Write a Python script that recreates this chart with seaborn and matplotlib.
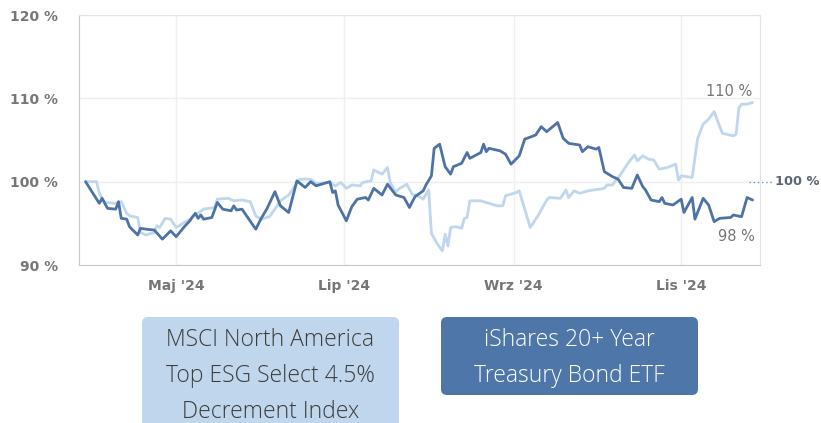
import pandas as pd
import matplotlib.pyplot as plt
import matplotlib.dates as mdates
from matplotlib.patches import FancyBboxPatch
from matplotlib.ticker import FuncFormatter
import seaborn as sns

# series names as shown in the legend boxes
msci_name = "MSCI North America\nTop ESG Select 4.5%\nDecrement Index"
tlt_name = "iShares 20+ Year\nTreasury Bond ETF"

# values, % of the starting value
msci_dates = [
    "2024-03-29", "2024-04-02", "2024-04-03", "2024-04-05", "2024-04-09", "2024-04-11",
    "2024-04-13", "2024-04-14", "2024-04-17", "2024-04-18", "2024-04-20", "2024-04-23",
    "2024-04-24", "2024-04-25", "2024-04-27", "2024-04-29", "2024-05-01", "2024-05-04",
    "2024-05-06", "2024-05-08", "2024-05-11", "2024-05-15", "2024-05-16", "2024-05-20",
    "2024-05-22", "2024-05-25", "2024-05-28", "2024-05-30", "2024-06-01", "2024-06-04",
    "2024-06-07", "2024-06-08", "2024-06-11", "2024-06-14", "2024-06-15", "2024-06-19",
    "2024-06-21", "2024-06-26", "2024-06-28", "2024-06-30", "2024-07-02", "2024-07-04",
    "2024-07-07", "2024-07-08", "2024-07-11", "2024-07-12", "2024-07-15", "2024-07-17",
    "2024-07-18", "2024-07-20", "2024-07-21", "2024-07-24", "2024-07-26", "2024-07-28",
    "2024-07-30", "2024-08-01", "2024-08-02", "2024-08-04", "2024-08-06", "2024-08-07",
    "2024-08-08", "2024-08-09", "2024-08-11", "2024-08-13", "2024-08-14", "2024-08-15",
    "2024-08-16", "2024-08-20", "2024-08-22", "2024-08-26", "2024-08-28", "2024-08-29",
    "2024-09-02", "2024-09-03", "2024-09-07", "2024-09-10", "2024-09-13", "2024-09-14",
    "2024-09-18", "2024-09-20", "2024-09-21", "2024-09-23", "2024-09-25", "2024-09-28",
    "2024-10-02", "2024-10-04", "2024-10-05", "2024-10-07", "2024-10-08", "2024-10-10",
    "2024-10-13", "2024-10-15", "2024-10-16", "2024-10-18", "2024-10-20", "2024-10-22",
    "2024-10-24", "2024-10-27", "2024-10-30", "2024-10-31", "2024-11-01", "2024-11-05",
    "2024-11-07", "2024-11-09", "2024-11-11", "2024-11-13", "2024-11-16", "2024-11-20",
    "2024-11-21", "2024-11-22", "2024-11-23", "2024-11-25", "2024-11-27",
]
msci_values = [
    100.0, 100.0, 98.6, 97.5, 97.4, 97.6,
    96.2, 95.9, 95.7, 93.9, 93.6, 93.9,
    94.7, 94.5, 95.6, 95.5, 94.5, 95.1,
    95.5, 96.0, 96.7, 96.9, 97.9, 98.0,
    97.7, 97.8, 97.6, 95.9, 95.5, 95.8,
    97.2, 97.7, 98.4, 99.8, 100.3, 100.3,
    99.8, 99.9, 99.5, 99.9, 99.2, 99.6,
    99.5, 99.9, 100.1, 101.4, 100.9, 101.7,
    99.9, 98.7, 99.1, 99.7, 98.5, 98.3,
    97.9, 99.0, 93.8, 92.6, 91.7, 93.7,
    92.3, 94.5, 94.6, 94.4, 95.6, 95.7,
    97.7, 97.7, 97.5, 97.1, 97.1, 98.3,
    98.7, 98.9, 94.5, 96.0, 97.8, 98.1,
    98.0, 99.0, 98.1, 98.9, 98.6, 98.9,
    99.1, 99.2, 99.6, 99.6, 100.1, 100.9,
    102.4, 103.2, 102.5, 103.1, 102.7, 102.6,
    101.5, 101.7, 102.1, 100.2, 100.7, 100.5,
    105.2, 106.9, 107.5, 108.4, 105.8, 105.5,
    105.7, 108.8, 109.3, 109.3, 109.5,
]

tlt_dates = [
    "2024-03-29", "2024-04-03", "2024-04-04", "2024-04-06", "2024-04-09", "2024-04-10",
    "2024-04-11", "2024-04-13", "2024-04-14", "2024-04-17", "2024-04-18", "2024-04-20",
    "2024-04-23", "2024-04-26", "2024-04-29", "2024-05-01", "2024-05-04", "2024-05-06",
    "2024-05-07", "2024-05-08", "2024-05-09", "2024-05-10", "2024-05-11", "2024-05-14",
    "2024-05-16", "2024-05-18", "2024-05-21", "2024-05-22", "2024-05-23", "2024-05-25",
    "2024-05-30", "2024-06-01", "2024-06-03", "2024-06-06", "2024-06-08", "2024-06-11",
    "2024-06-14", "2024-06-17", "2024-06-19", "2024-06-21", "2024-06-26", "2024-06-27",
    "2024-06-28", "2024-06-29", "2024-07-02", "2024-07-04", "2024-07-06", "2024-07-09",
    "2024-07-10", "2024-07-12", "2024-07-15", "2024-07-17", "2024-07-20", "2024-07-23",
    "2024-07-25", "2024-07-27", "2024-07-30", "2024-07-31", "2024-08-02", "2024-08-03",
    "2024-08-05", "2024-08-07", "2024-08-09", "2024-08-10", "2024-08-13", "2024-08-15",
    "2024-08-16", "2024-08-20", "2024-08-21", "2024-08-22", "2024-08-23", "2024-08-27",
    "2024-08-29", "2024-08-31", "2024-09-03", "2024-09-05", "2024-09-09", "2024-09-11",
    "2024-09-13", "2024-09-17", "2024-09-19", "2024-09-21", "2024-09-25", "2024-09-26",
    "2024-09-28", "2024-10-01", "2024-10-02", "2024-10-04", "2024-10-07", "2024-10-09",
    "2024-10-11", "2024-10-14", "2024-10-16", "2024-10-18", "2024-10-19", "2024-10-21",
    "2024-10-24", "2024-10-25", "2024-10-26", "2024-10-29", "2024-11-01", "2024-11-02",
    "2024-11-05", "2024-11-06", "2024-11-09", "2024-11-11", "2024-11-13", "2024-11-15",
    "2024-11-19", "2024-11-20", "2024-11-23", "2024-11-25", "2024-11-27",
]
tlt_values = [
    100.0, 97.4, 98.0, 96.8, 96.7, 97.6,
    95.6, 95.5, 94.6, 93.6, 94.4, 94.3,
    94.2, 93.1, 94.1, 93.4, 94.6, 95.3,
    95.8, 96.2, 95.6, 96.0, 95.5, 95.7,
    97.5, 96.7, 96.5, 97.1, 96.6, 96.7,
    94.3, 95.6, 96.7, 98.8, 97.1, 96.3,
    100.1, 99.3, 100.0, 99.5, 100.0, 98.7,
    98.9, 97.2, 95.3, 97.0, 97.9, 98.1,
    97.8, 99.2, 98.4, 99.7, 98.4, 98.1,
    96.9, 98.2, 98.9, 99.6, 100.7, 104.0,
    104.5, 101.8, 100.9, 101.8, 102.2, 103.5,
    102.8, 103.5, 104.5, 103.6, 104.0, 103.7,
    103.3, 102.1, 103.1, 105.1, 105.6, 106.6,
    106.0, 107.1, 105.2, 104.6, 104.4, 103.6,
    104.2, 103.9, 104.1, 101.2, 100.6, 100.3,
    99.3, 99.2, 100.8, 99.4, 99.0, 97.8,
    97.6, 98.1, 97.4, 97.2, 97.9, 96.3,
    98.1, 95.5, 98.0, 97.2, 95.2, 95.6,
    95.7, 96.0, 95.8, 98.1, 97.8,
]

base_level = 100
y_ticks = [90, 100, 110, 120]
month_labels = {5: "Maj", 7: "Lip", 9: "Wrz", 11: "Lis"}

light_blue = "#bfd6ec"
dark_blue = "#4d73a6"
text_grey = "#767676"

df = pd.concat([
    pd.DataFrame({"date": pd.to_datetime(msci_dates), "value": msci_values, "series": msci_name}),
    pd.DataFrame({"date": pd.to_datetime(tlt_dates), "value": tlt_values, "series": tlt_name}),
])

sns.set_style("white")
plt.rcParams["font.family"] = ["DejaVu Sans"]

W, H = 821, 423
fig = plt.figure(figsize=(W / 100, H / 100), dpi=100)
ax = fig.add_axes([78.7 / W, 1 - 265 / H, (760 - 78.7) / W, 250 / H])

sns.lineplot(data=df, x="date", y="value", hue="series", hue_order=[msci_name, tlt_name],
             palette={msci_name: light_blue, tlt_name: dark_blue}, estimator=None,
             linewidth=2.0, legend=False, ax=ax)

ax.set_xlim(pd.Timestamp("2024-03-26 12:00"), pd.Timestamp("2024-11-29 17:00"))
ax.set_ylim(90, 120)
ax.set_yticks(y_ticks)
ax.set_yticklabels([f"{v} %" for v in y_ticks])
ax.xaxis.set_major_locator(mdates.MonthLocator(bymonth=list(month_labels)))
ax.xaxis.set_major_formatter(FuncFormatter(
    lambda x, pos: f"{month_labels[mdates.num2date(x).month]} '{mdates.num2date(x):%y}"))
ax.set_xlabel("")
ax.set_ylabel("")

ax.grid(True, color="#efefef", linewidth=1)
ax.tick_params(axis="y", length=0, pad=15, labelsize=10, labelcolor=text_grey)
ax.tick_params(axis="x", length=8, width=1, color="#c8c8c8", pad=2, labelsize=10,
               labelcolor=text_grey)
for lab in ax.get_xticklabels() + ax.get_yticklabels():
    lab.set_fontweight("bold")
for side in ["left", "bottom"]:
    ax.spines[side].set_color("#c8c8c8")
for side in ["top", "right"]:
    ax.spines[side].set_color("#e4e4e4")

# end-of-line labels
end_msci = pd.Timestamp(msci_dates[-1])
end_tlt = pd.Timestamp(tlt_dates[-1])
ax.annotate(f"{msci_values[-1]:.0f} %", xy=(end_msci, msci_values[-1]), xytext=(0, 7.6),
            textcoords="offset points", ha="right", va="center", fontsize=10.5, color=text_grey)
ax.annotate(f"{tlt_values[-1]:.0f} %", xy=(end_tlt, tlt_values[-1]), xytext=(2, -26),
            textcoords="offset points", ha="right", va="center", fontsize=10.5, color=text_grey)

# base level marker on the right
yt = ax.get_yaxis_transform()
ax.plot([0.984, 1.018], [base_level, base_level], transform=yt, clip_on=False,
        color="#6b8fc2", linewidth=1, linestyle=(0, (1, 2)))
ax.text(1.0215, base_level, f"{base_level} %", transform=yt, ha="left", va="center",
        fontsize=9.4, fontweight="bold", color="#5d6673")

# legend boxes drawn in pixel space
overlay = fig.add_axes([0, 0, 1, 1])
overlay.set_xlim(0, W)
overlay.set_ylim(H, 0)
overlay.axis("off")
legend_boxes = [
    (msci_name, 142, 317, 257, 140, light_blue, "#3c3c3c", 376),
    (tlt_name, 441, 317, 257, 78, "#4f76a9", "white", 358),
]
for name, x0, y0, w, h, face, tcol, ty in legend_boxes:
    overlay.add_patch(FancyBboxPatch((x0, y0), w, h, boxstyle="round,pad=0,rounding_size=6",
                                     facecolor=face, edgecolor="none", clip_on=False))
    overlay.text(x0 + w / 2, ty, name, ha="center", va="center", fontsize=16.5,
                 family="Open Sans", fontweight="light", color=tcol, linespacing=1.68)

fig.savefig("out.png", dpi=100)
